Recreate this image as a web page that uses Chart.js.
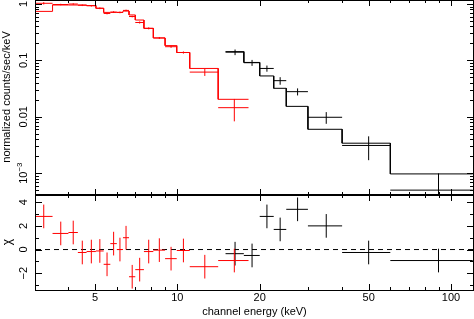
<!DOCTYPE html>
<html>
<head>
<meta charset="utf-8">
<script src="https://cdn.jsdelivr.net/npm/chart.js@4.4.0/dist/chart.umd.min.js"></script>
<style>
  html, body { margin: 0; padding: 0; background: #fff; }
  #wrap { position: relative; width: 474px; height: 319px; }
  canvas { position: absolute; left: 0; }
  #specChart { top: 0; }
  #chiChart { top: 195px; }
</style>
</head>
<body>
<div id="wrap">
  <canvas id="specChart" width="474" height="195"></canvas>
  <canvas id="chiChart" width="474" height="124"></canvas>
</div>
<script>
// red instrument: channel bin edges (keV), counts, errors, model, residuals
const redEdges = [3.0, 3.5, 4.0, 4.33, 4.66, 5.04, 5.38, 5.69, 6.01, 6.33, 6.66, 7.02, 7.55, 8.17, 9.02, 9.95, 11.1, 14.1, 18.2];
const redFlux = [1.03, 0.98, 1.0, 0.95, 0.93, 0.84, 0.68, 0.72, 0.71, 0.77, 0.60, 0.47, 0.37, 0.25, 0.175, 0.138, 0.062, 0.0145];
const redFluxErr = [0.05, 0.03, 0.03, 0.03, 0.03, 0.03, 0.025, 0.025, 0.025, 0.025, 0.02, 0.02, 0.015, 0.01, 0.008, 0.006, 0.009, 0.0062];
const redModel = [0.74, 0.96, 0.96, 0.96, 0.94, 0.84, 0.71, 0.71, 0.71, 0.75, 0.64, 0.52, 0.37, 0.25, 0.183, 0.138, 0.072, 0.0204];
const redChi = [2.8, 1.36, 1.44, -0.25, -0.17, -0.12, -1.25, 0.5, 0.0, 1.0, -2.3, -1.7, -0.17, -0.05, -0.77, -0.08, -1.45, -0.93];

// black instrument
const blackEdges = [15, 17.5, 20, 22.5, 25, 30, 40, 60, 120];
const blackFlux = [0.14, 0.091, 0.072, 0.0437, 0.0279, 0.0098, 0.0031, 0.0005];
const blackFluxErr = [0.016, 0.011, 0.009, 0.0067, 0.004, 0.0023, 0.0014, 0.00049];
const blackModel = [0.143, 0.092, 0.053, 0.032, 0.0153, 0.006, 0.0034, 0.00097];
const blackChi = [-0.35, -0.5, 2.8, 1.7, 3.4, 2.0, -0.25, -0.93];

const chiErr = 1; // delchi error bars are +-1

// axes
const xMin = 3.045, xMax = 120.3;
const fluxMin = 4.1e-4, fluxMax = 1.178;
const chiMin = -3.42, chiMax = 4.61;
const xTicks = [5, 10, 20, 50, 100];
const xMinor = [3, 4, 6, 7, 8, 9, 30, 40, 60, 70, 80, 90];
const fluxTicks = [1, 0.1, 0.01, 0.001];
const fluxTickLabels = ["1", "0.1", "0.01", "10|−3"];
const fluxMinor = [2, 3, 4, 5, 6, 7, 8, 9].flatMap(k => [k * 1e-4, k * 1e-3, k * 1e-2, k * 1e-1]);
const chiTicks = [4, 2, 0, -2];
const chiMinor = [3, 1, -1, -3];

const FONT = '"Liberation Sans", Arial, Helvetica, sans-serif';

function crossPoints(edges, vals, errs, floor) {
  const pts = [];
  vals.forEach((v, i) => {
    const lo = edges[i], hi = edges[i + 1], c = (lo + hi) / 2;
    const e = Array.isArray(errs) ? errs[i] : errs;
    let bot = v - e;
    if (floor !== undefined && bot <= 0) bot = floor;
    pts.push({ x: lo, y: v }, { x: hi, y: v }, { x: hi, y: null });
    pts.push({ x: c, y: bot }, { x: c, y: v + e }, { x: c, y: null });
  });
  return pts;
}

function stepPoints(edges, vals) {
  return vals.flatMap((v, i) => [{ x: edges[i], y: v }, { x: edges[i + 1], y: v }]);
}

function lineSet(data, color, dash) {
  return {
    data: data,
    borderColor: color,
    borderWidth: 1,
    borderDash: dash || [],
    pointRadius: 0,
    fill: false,
    tension: 0,
    spanGaps: false,
    clip: 0,
  };
}

function rotText(ctx, text, x, y, size) {
  ctx.save();
  ctx.translate(x, y);
  ctx.rotate(-Math.PI / 2);
  ctx.font = size + "px " + FONT;
  ctx.textBaseline = "middle";
  if (text.indexOf("|") >= 0) {
    const parts = text.split("|");
    const w1 = ctx.measureText(parts[0]).width;
    ctx.font = (size - 3) + "px " + FONT;
    const w2 = ctx.measureText(parts[1]).width;
    const start = -(w1 + w2) / 2;
    ctx.textAlign = "left";
    ctx.font = size + "px " + FONT;
    ctx.fillText(parts[0], start, 0);
    ctx.font = (size - 3) + "px " + FONT;
    ctx.fillText(parts[1], start + w1, -4);
  } else {
    ctx.textAlign = "center";
    ctx.fillText(text, 0, 0);
  }
  ctx.restore();
}

function drawXTicks(ctx, chart, atTop, atBottom) {
  const a = chart.chartArea, sx = chart.scales.x;
  const tick = (v, len) => {
    const px = Math.round(sx.getPixelForValue(v)) + 0.5;
    if (px < a.left || px > a.right + 1) return;
    ctx.beginPath();
    if (atTop) { ctx.moveTo(px, a.top); ctx.lineTo(px, a.top + len); }
    if (atBottom) { ctx.moveTo(px, a.bottom); ctx.lineTo(px, a.bottom - len); }
    ctx.stroke();
  };
  xTicks.forEach(v => tick(v, 6));
  xMinor.forEach(v => tick(v, 3));
}

function drawYTicks(ctx, chart, majors, minors) {
  const a = chart.chartArea, sy = chart.scales.y;
  const tick = (v, len) => {
    const py = Math.round(sy.getPixelForValue(v)) + 0.5;
    if (py < a.top || py > a.bottom) return;
    ctx.beginPath();
    ctx.moveTo(a.left, py); ctx.lineTo(a.left + len, py);
    ctx.moveTo(a.right, py); ctx.lineTo(a.right - len, py);
    ctx.stroke();
  };
  majors.forEach(v => tick(v, 6));
  minors.forEach(v => tick(v, 3));
}

const specFrame = {
  id: "specFrame",
  afterDraw(chart) {
    const ctx = chart.ctx, a = chart.chartArea;
    ctx.save();
    ctx.strokeStyle = "#000";
    ctx.lineWidth = 1;
    ctx.strokeRect(a.left - 0.5, a.top + 0.5, a.right - a.left + 1, a.bottom - a.top - 1);
    drawXTicks(ctx, chart, true, true);
    drawYTicks(ctx, chart, fluxTicks, fluxMinor);
    ctx.fillStyle = "#000";
    fluxTicks.forEach((v, i) => {
      rotText(ctx, fluxTickLabels[i], 24, chart.scales.y.getPixelForValue(v), 11);
    });
    rotText(ctx, "normalized counts/sec/keV", 7, 97, 11);
    ctx.restore();
  }
};

const chiFrame = {
  id: "chiFrame",
  afterDraw(chart) {
    const ctx = chart.ctx, a = chart.chartArea;
    ctx.save();
    ctx.strokeStyle = "#000";
    ctx.lineWidth = 1;
    ctx.strokeRect(a.left - 0.5, a.top + 0.5, a.right - a.left + 1, a.bottom - a.top);
    drawXTicks(ctx, chart, true, true);
    drawYTicks(ctx, chart, chiTicks, chiMinor);
    ctx.fillStyle = "#000";
    chiTicks.forEach(v => {
      rotText(ctx, String(v).replace("-", "−"), 24, chart.scales.y.getPixelForValue(v), 11);
    });
    rotText(ctx, "χ", 8, 47, 12);
    ctx.font = "11px " + FONT;
    ctx.textAlign = "center";
    ctx.textBaseline = "middle";
    xTicks.forEach(v => {
      ctx.fillText(String(v), chart.scales.x.getPixelForValue(v), 103);
    });
    ctx.fillText("channel energy (keV)", (a.left + a.right) / 2, 117);
    ctx.restore();
  }
};

const common = {
  responsive: false,
  animation: false,
  events: [],
  plugins: { legend: { display: false }, tooltip: { enabled: false } },
};

const specChart = new Chart(document.getElementById("specChart").getContext("2d"), {
  type: "line",
  data: {
    datasets: [
      lineSet(crossPoints(redEdges, redFlux, redFluxErr, 1e-7), "#ff0000"),
      lineSet(crossPoints(blackEdges, blackFlux, blackFluxErr, 1e-7), "#000000"),
      lineSet(stepPoints(redEdges, redModel), "#ff0000"),
      lineSet(stepPoints(blackEdges, blackModel), "#000000"),
    ],
  },
  options: {
    ...common,
    layout: { padding: { left: 36, right: 1, top: 0, bottom: 0 } },
    scales: {
      x: { type: "logarithmic", min: xMin, max: xMax, bounds: "data", display: false },
      y: { type: "logarithmic", min: fluxMin, max: fluxMax, bounds: "data", display: false },
    },
  },
  plugins: [specFrame],
});

const chiChart = new Chart(document.getElementById("chiChart").getContext("2d"), {
  type: "line",
  data: {
    datasets: [
      lineSet(crossPoints(redEdges, redChi, chiErr), "#ff0000"),
      lineSet(crossPoints(blackEdges, blackChi, chiErr), "#000000"),
      lineSet([{ x: xMin, y: 0 }, { x: xMax, y: 0 }], "#000000", [5, 4]),
    ],
  },
  options: {
    ...common,
    layout: { padding: { left: 36, right: 1, top: 0, bottom: 29 } },
    scales: {
      x: { type: "logarithmic", min: xMin, max: xMax, bounds: "data", display: false },
      y: { type: "linear", min: chiMin, max: chiMax, bounds: "data", display: false },
    },
  },
  plugins: [chiFrame],
});
</script>
</body>
</html>
